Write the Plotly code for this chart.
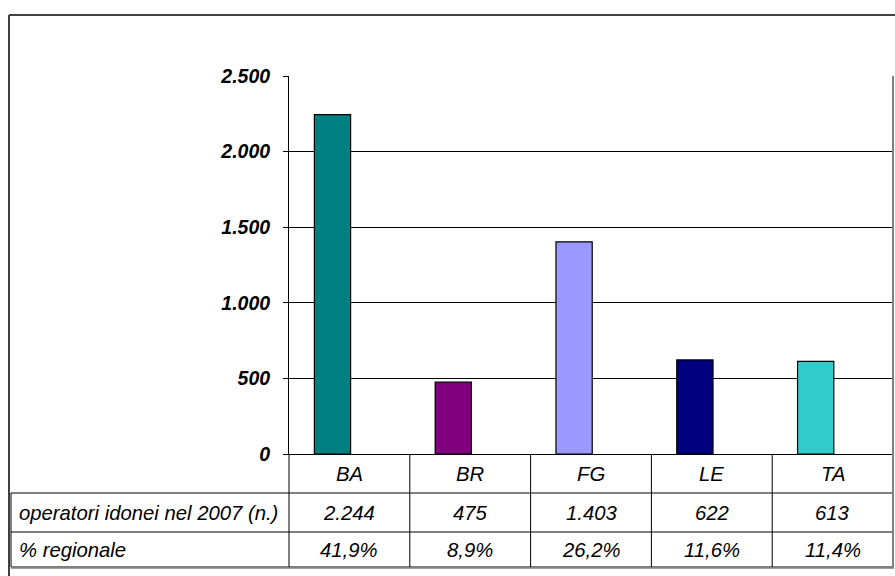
import plotly.graph_objects as go

# ---- data ----
categories = ["BA", "BR", "FG", "LE", "TA"]
operatori = [2244, 475, 1403, 622, 613]
perc_regionale = [41.9, 8.9, 26.2, 11.6, 11.4]
bar_colors = ["#008080", "#800080", "#9999FF", "#000080", "#33CCCC"]
row_labels = ["operatori idonei nel 2007 (n.)", "% regionale"]
y_ticks = [0, 500, 1000, 1500, 2000, 2500]

W, H = 895, 576
FONT = "Liberation Sans, Arial, sans-serif"


def px_x(p):
    return p / W


def px_y(p):
    return 1 - p / H


def it_int(v):
    return f"{v:,}".replace(",", ".")


def it_pct(v):
    return f"{v:.1f}".replace(".", ",") + "%"


# layout geometry (pixels)
plot_left, plot_right = 289, 893
plot_top, plot_bottom = 76, 454
row_edges = [454, 493, 532, 567]
table_left = 11

fig = go.Figure()
fig.add_trace(go.Bar(
    x=categories,
    y=operatori,
    marker=dict(color=bar_colors, line=dict(color="black", width=1.2)),
    width=0.3,
    offset=-0.29,
    showlegend=False,
    hoverinfo="x+y",
))

shapes = []
line_k = dict(color="black", width=1)

for yy in row_edges[1:]:
    shapes.append(dict(type="line", xref="paper", yref="paper",
                       x0=px_x(table_left), x1=px_x(plot_right),
                       y0=px_y(yy), y1=px_y(yy), line=line_k))
n = len(categories)
for i in range(1, n):
    shapes.append(dict(type="line", xref="x", yref="paper",
                       x0=i - 0.5, x1=i - 0.5,
                       y0=px_y(row_edges[0]), y1=px_y(row_edges[-1]), line=line_k))
shapes.append(dict(type="line", xref="paper", yref="paper",
                   x0=px_x(plot_left), x1=px_x(plot_left),
                   y0=px_y(row_edges[0]), y1=px_y(row_edges[-1]), line=line_k))
shapes.append(dict(type="line", xref="paper", yref="paper",
                   x0=px_x(table_left), x1=px_x(table_left),
                   y0=px_y(row_edges[1]), y1=px_y(row_edges[-1]), line=line_k))
shapes.append(dict(type="line", xref="paper", yref="paper",
                   x0=px_x(plot_right), x1=px_x(plot_right),
                   y0=px_y(plot_top), y1=px_y(row_edges[-1] + 1),
                   line=dict(color="#808080", width=2)))
shapes.append(dict(type="line", xref="paper", yref="paper",
                   x0=px_x(table_left), x1=px_x(plot_right + 1),
                   y0=px_y(row_edges[-1] + 1), y1=px_y(row_edges[-1] + 1),
                   line=dict(color="#808080", width=1.5)))
shapes.append(dict(type="line", xref="paper", yref="paper",
                   x0=px_x(9), x1=1, y0=px_y(15), y1=px_y(15),
                   line=dict(color="#404040", width=2)))
shapes.append(dict(type="line", xref="paper", yref="paper",
                   x0=px_x(9), x1=px_x(9), y0=px_y(15), y1=0,
                   line=dict(color="#404040", width=2)))

annotations = []
tfont = dict(family=FONT, size=20.3, color="black", style="italic")


def mid(a, b):
    return px_y((a + b) / 2)


for i, c in enumerate(categories):
    annotations.append(dict(x=c, xref="x", y=mid(row_edges[0], row_edges[1]), yref="paper",
                            text=c, showarrow=False, font=tfont,
                            xanchor="center", yanchor="middle"))
    annotations.append(dict(x=c, xref="x", y=mid(row_edges[1], row_edges[2]), yref="paper",
                            text=it_int(operatori[i]), showarrow=False, font=tfont,
                            xanchor="center", yanchor="middle"))
    annotations.append(dict(x=c, xref="x", y=mid(row_edges[2], row_edges[3]), yref="paper",
                            text=it_pct(perc_regionale[i]), showarrow=False, font=tfont,
                            xanchor="center", yanchor="middle"))
for r, lab in enumerate(row_labels):
    annotations.append(dict(x=px_x(17), xref="paper",
                            y=mid(row_edges[r + 1], row_edges[r + 2]), yref="paper",
                            text=lab, showarrow=False, font=tfont,
                            xanchor="left", yanchor="middle"))

fig.update_layout(
    width=W, height=H,
    margin=dict(l=0, r=0, t=0, b=0, pad=0, autoexpand=False),
    paper_bgcolor="white", plot_bgcolor="white",
    separators=",.",
    xaxis=dict(domain=[px_x(plot_left), px_x(plot_right)],
               range=[-0.5, n - 0.5],
               showticklabels=False, ticks="", showgrid=False,
               showline=True, linecolor="black", linewidth=1,
               zeroline=False, fixedrange=True, automargin=False),
    yaxis=dict(domain=[px_y(plot_bottom), px_y(plot_top)],
               range=[0, 2500], tickvals=y_ticks,
               tickformat=",d",
               ticks="outside", ticklen=5, tickcolor="black", tickwidth=1,
               ticklabelstandoff=9,
               tickfont=dict(family=FONT, size=19.5, color="black",
                             weight="bold", style="italic"),
               showgrid=True, gridcolor="black", gridwidth=1,
               showline=True, linecolor="black", linewidth=1,
               zeroline=False, fixedrange=True, automargin=False),
    shapes=shapes,
    annotations=annotations,
)

fig.write_html("out.html", post_script="document.body.style.margin='0';")
